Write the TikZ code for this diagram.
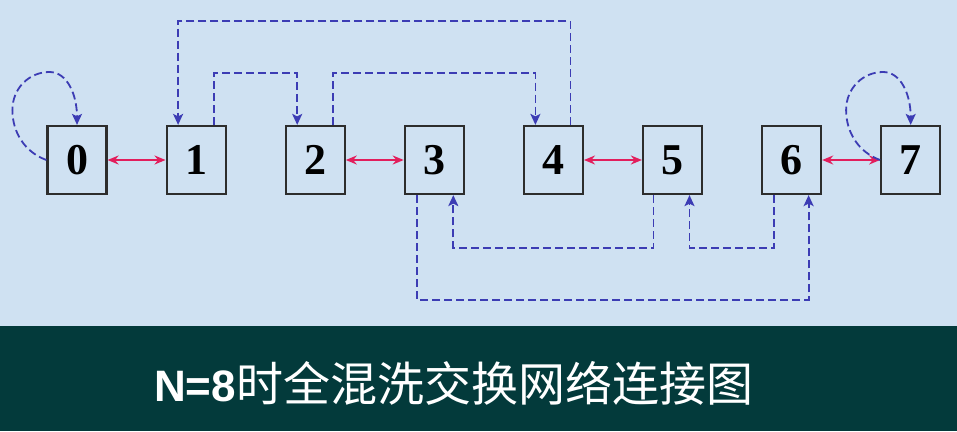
\documentclass[tikz,border=0pt]{standalone}
\usepackage{fontspec}
\setmainfont{Liberation Serif}
\newfontfamily\labelsans{Liberation Sans}
\newfontfamily\cjk{Noto Sans CJK SC}
\usetikzlibrary{positioning,calc,arrows.meta}
\definecolor{paper}{RGB}{207,225,242}
\definecolor{band}{RGB}{3,58,59}
\definecolor{wire}{RGB}{60,60,180}
\definecolor{swap}{RGB}{226,30,92}
\definecolor{frame}{RGB}{45,45,45}

\begin{document}
\begin{tikzpicture}[x=1pt,y=-1pt]
                        \tikzstyle{every node}=[inner sep=0]
                        \tikzstyle{cell}=[draw=frame,line width=2.2,minimum width=59,minimum height=68,font=\fontsize{44}{44}\selectfont\bfseries]
                        \tikzstyle{shuffle}=[draw=wire,line width=1.8,dash pattern=on 8pt off 4pt,-{Stealth[length=11pt,width=10pt,inset=2.5pt]}]
                        \tikzstyle{exchange}=[draw=swap,line width=1.8,{Stealth[length=11pt,width=9pt]}-{Stealth[length=11pt,width=9pt]}]
                        \tikzstyle{caption}=[text=white,anchor=base west]
                        {
                            \useasboundingbox (0,0) rectangle (957,431);
                            \fill[paper] (0,0) rectangle (957,326);
                            \fill[band] (0,326) rectangle (957,431);

                            % processors
                            \foreach \i in {0,...,7}
                                \node[cell] (n\i) at (77+119.1*\i,160) {\i};

                            % exchange links
                            \foreach \a/\b in {0/1,2/3,4/5,6/7}
                                \draw[exchange] (n\a.east) -- (n\b.west);

                            % shuffle links over the top
                            \draw[shuffle] ($(n1.north)+(18,0)$) -- ++(0,-52) -| ($(n2.north)+(-18,0)$);
                            \draw[shuffle] ($(n2.north)+(18,0)$) -- ++(0,-52) -| ($(n4.north)+(-18,0)$);
                            \draw[shuffle] ($(n4.north)+(17,0)$) -- ++(0,-104) -| ($(n1.north)+(-18,0)$);

                            % shuffle links underneath
                            \draw[shuffle] ($(n3.south)+(-17,0)$) -- ++(0,105) -| ($(n6.south)+(17,0)$);
                            \draw[shuffle] ($(n5.south)+(-19,0)$) -- ++(0,53) -| ($(n3.south)+(19,0)$);
                            \draw[shuffle] ($(n6.south)+(-18,0)$) -- ++(0,53) -| ($(n5.south)+(17,0)$);

                            % 0 and 7 map to themselves
                            \foreach \i in {0,7}
                                \draw[shuffle] (n\i.west)
                                    .. controls ($(n\i.west)+(-22,-8)$) and ($(n\i.west)+(-34,-28)$) .. ($(n\i.west)+(-34,-50)$)
                                    .. controls ($(n\i.west)+(-34,-72)$) and ($(n\i.west)+(-17,-88)$) .. ($(n\i.west)+(3,-88)$)
                                    .. controls ($(n\i.west)+(21,-88)$) and ($(n\i.north)+(0,-30)$) .. (n\i.north);

                            \node[caption] (title) at (154,401) {{\labelsans\bfseries\fontsize{44}{44}\selectfont N=8}{\cjk\fontsize{47}{47}\selectfont 时全混洗交换网络连接图}};
                        }
                    \end{tikzpicture}
\end{document}
